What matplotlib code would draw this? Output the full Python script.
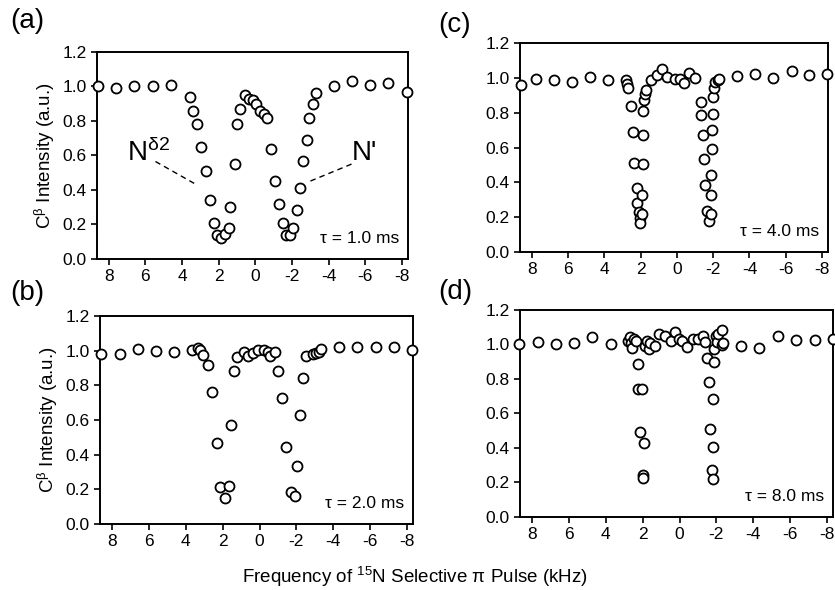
import matplotlib
matplotlib.use("Agg")
import matplotlib.pyplot as plt

plt.rcParams['font.family'] = ['Liberation Sans', 'DejaVu Sans']
plt.rcParams['mathtext.fontset'] = 'custom'
plt.rcParams['mathtext.rm'] = 'Liberation Sans'
plt.rcParams['mathtext.it'] = 'Liberation Sans'

# ---- data ----
xa = [8.6, 7.6, 6.6, 5.6, 4.58, 3.58, 3.4, 3.17, 2.95, 2.71, 2.5, 2.26, 2.08, 1.86, 1.67,
      1.45, 1.36, 1.12, 0.98, 0.81, 0.58, 0.36, 0.14, -0.05, -0.27, -0.45, -0.63, -0.85,
      -1.05, -1.27, -1.5, -1.68, -1.9, -2.08, -2.26, -2.44, -2.62, -2.8, -2.95, -3.13,
      -3.31, -4.3, -5.28, -6.24, -7.24, -8.27]
ya = [1.0, 0.99, 1.0, 1.0, 1.01, 0.94, 0.86, 0.78, 0.65, 0.51, 0.34, 0.21, 0.14, 0.12, 0.145,
      0.18, 0.30, 0.55, 0.78, 0.87, 0.95, 0.93, 0.92, 0.90, 0.86, 0.84, 0.815, 0.636,
      0.45, 0.32, 0.21, 0.14, 0.14, 0.18, 0.285, 0.41, 0.57, 0.69, 0.815, 0.90,
      0.96, 1.0, 1.03, 1.01, 1.02, 0.97]

xb = [8.58, 7.6, 6.58, 5.6, 4.64, 3.67, 3.36, 3.22, 3.09, 2.82, 2.6, 2.33, 2.15, 1.87, 1.67,
      1.55, 1.4, 1.22, 0.82, 0.64, 0.36, 0.09, -0.27, -0.45, -0.58, -0.82, -1.0, -1.22,
      -1.45, -1.69, -1.91, -2.05, -2.18, -2.36, -2.55, -2.9, -3.09, -3.24, -3.36, -4.31,
      -5.31, -6.33, -7.3, -8.3]
yb = [0.98, 0.98, 1.01, 1.0, 0.996, 1.006, 1.015, 1.006, 0.977, 0.92, 0.765, 0.466, 0.212, 0.148, 0.22,
      0.57, 0.886, 0.967, 0.996, 0.97, 0.986, 1.006, 1.006, 0.996, 0.97, 0.996, 0.886, 0.73,
      0.447, 0.187, 0.162, 0.335, 0.63, 0.842, 0.97, 0.98, 0.99, 0.996, 1.01, 1.02,
      1.02, 1.02, 1.025, 1.006]

xc = [8.6, 7.8, 6.8, 5.8, 4.79, 3.78, 2.82, 2.74, 2.69, 2.56, 2.45, 2.38, 2.23, 2.18, 2.12,
      2.05, 2.05, 1.92, 1.92, 1.9, 1.86, 1.86, 1.8, 1.75, 1.72, 1.46, 1.13, 0.82, 0.55,
      0.13, -0.15, -0.37, -0.66, -0.97, -1.3, -1.35, -1.43, -1.48, -1.52, -1.66, -1.74,
      -1.88, -1.88, -1.9, -1.92, -1.94, -1.97, -2.01, -2.03, -2.1, -2.25, -2.34, -3.29,
      -4.31, -5.32, -6.33, -7.28, -8.3]
yc = [0.96, 0.995, 0.99, 0.976, 1.005, 0.986, 0.986, 0.967, 0.94, 0.836, 0.69, 0.51, 0.37, 0.283, 0.23,
      0.197, 0.167, 0.22, 0.325, 0.503, 0.67, 0.81, 0.875, 0.91, 0.93, 0.986, 1.014, 1.05, 1.005,
      0.995, 0.995, 0.97, 1.03, 1.0, 0.86, 0.785, 0.67, 0.536, 0.383, 0.235, 0.176,
      0.22, 0.325, 0.44, 0.59, 0.70, 0.795, 0.89, 0.94, 0.976, 0.99, 0.995, 1.01,
      1.02, 1.0, 1.04, 1.014, 1.02]

xd = [8.7, 7.7, 6.7, 5.73, 4.74, 3.74, 2.8, 2.7, 2.65, 2.58, 2.49, 2.38, 2.27, 2.23, 2.05,
      2.12, 1.92, 1.98, 1.98, 1.89, 1.76, 1.65, 1.58, 1.34, 1.1, 0.8, 0.49, 0.22, 0.02,
      -0.11, -0.38, -0.71, -0.98, -1.29, -1.38, -1.47, -1.58, -1.65, -1.74, -1.8, -1.83,
      -1.83, -1.87, -1.87, -1.98, -2.01, -2.1, -2.29, -2.29, -2.38, -3.32, -4.34, -5.32,
      -6.32, -7.33, -8.33]
yd = [1.0, 1.016, 1.0, 1.01, 1.04, 1.0, 1.02, 1.04, 1.006, 0.98, 1.03, 1.02, 0.888, 0.74, 0.743,
      0.49, 0.426, 0.24, 0.226, 0.99, 1.02, 0.97, 1.01, 0.99, 1.06, 1.05, 1.02, 1.07, 1.03,
      1.02, 0.985, 1.033, 1.033, 1.05, 1.014, 0.923, 0.78, 0.51, 0.27, 0.22, 0.406,
      0.685, 0.898, 0.97, 1.045, 1.014, 1.06, 1.08, 0.995, 1.01, 0.99, 0.98, 1.05,
      1.026, 1.024, 1.033]

panel_labels = ['(a)', '(b)', '(c)', '(d)']
tau_labels = ['τ = 1.0 ms', 'τ = 2.0 ms', 'τ = 4.0 ms', 'τ = 8.0 ms']
xticks = [8, 6, 4, 2, 0, -2, -4, -6, -8]
yticks = [0.0, 0.2, 0.4, 0.6, 0.8, 1.0, 1.2]

fig = plt.figure(figsize=(8.35, 5.9), dpi=100)
rects = [
    [0.116, 0.561, 0.373, 0.351],   # a
    [0.120, 0.112, 0.375, 0.352],   # b
    [0.623, 0.573, 0.369, 0.354],   # c
    [0.623, 0.124, 0.375, 0.351],   # d
]
datasets = [(xa, ya), (xb, yb), (xc, yc), (xd, yd)]

axes = []
for i, (rect, (x, y)) in enumerate(zip(rects, datasets)):
    ax = fig.add_axes(rect)
    ax.plot(x, y, linestyle='none', marker='o', markersize=7.2,
            markerfacecolor='white', markeredgecolor='black', markeredgewidth=1.3,
            clip_on=False, zorder=3)
    ax.set_xlim(8.65, -8.35)
    ax.set_ylim(0, 1.2)
    ax.set_xticks(xticks)
    ax.set_xticklabels([str(t) for t in xticks])
    ax.set_yticks(yticks)
    ax.set_yticklabels([f'{t:.1f}' for t in yticks])
    ax.tick_params(direction='out', length=4.5, width=1.2, labelsize=12.5,
                   top=False, right=False, pad=3)
    for s in ax.spines.values():
        s.set_linewidth(1.4)
    ax.text(0.97, 0.1, tau_labels[i], transform=ax.transAxes, ha='right', va='center',
            fontsize=12.5)
    if i in (0, 1):
        ax.set_ylabel(r'C$^{\mathrm{β}}$ Intensity (a.u.)', fontsize=13.5, labelpad=4)
    axes.append(ax)

# panel labels
fig.text(0.012, 0.965, panel_labels[0], fontsize=20, va='center', ha='left')
fig.text(0.012, 0.503, panel_labels[1], fontsize=20, va='center', ha='left')
fig.text(0.525, 0.958, panel_labels[2], fontsize=20, va='center', ha='left')
fig.text(0.525, 0.505, panel_labels[3], fontsize=20, va='center', ha='left')

# annotations in (a)
ax = axes[0]
ax.text(5.85, 0.615, r'N$^{\mathrm{δ2}}$', fontsize=20, ha='center', va='center')
ax.plot([5.45, 3.2], [0.565, 0.43], linestyle=(0, (4, 3)), color='black', linewidth=1.0)
ax.text(-5.95, 0.615, "N'", fontsize=20, ha='center', va='center')
ax.plot([-5.25, -2.85], [0.55, 0.445], linestyle=(0, (4, 3)), color='black', linewidth=1.0)

fig.text(0.497, 0.022, r'Frequency of $^{\mathrm{15}}$N Selective π Pulse (kHz)', fontsize=13.5,
         ha='center', va='center')

fig.savefig('out.png', dpi=100)
